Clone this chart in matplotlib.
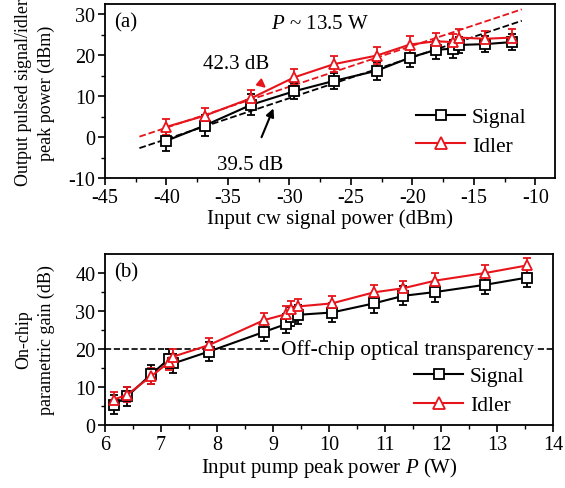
import matplotlib
matplotlib.use("Agg")
import matplotlib.pyplot as plt
from matplotlib.lines import Line2D
import numpy as np

plt.rcParams['font.family'] = ['Liberation Serif', 'DejaVu Serif']
plt.rcParams['mathtext.fontset'] = 'custom'
plt.rcParams['mathtext.it'] = 'Liberation Serif:italic'
plt.rcParams['mathtext.rm'] = 'Liberation Serif'
plt.rcParams['axes.unicode_minus'] = False

# Panel (a)
a_x = [-40.0, -36.9, -33.1, -29.6, -26.4, -22.9, -20.2, -18.1, -16.7, -16.2, -14.1, -11.9]
a_signal = [-0.9, 2.8, 7.9, 11.2, 13.7, 16.2, 19.4, 21.3, 21.6, 22.5, 22.7, 23.2]
a_idler = [2.5, 5.2, 9.5, 14.6, 17.8, 19.9, 22.6, 23.4, 23.2, 24.3, 24.0, 24.3]
a_sig_err = [2.5, 2.5, 2.5, 2.0, 2.0, 2.2, 2.2, 2.2, 2.2, 2.0, 2.0, 2.0]
a_idl_err = [2.0, 2.0, 2.0, 2.0, 2.0, 2.0, 2.0, 2.0, 2.0, 2.0, 2.0, 2.0]
fit_x = [-42.2, -11.1]
fit_gain_signal = 39.5
fit_gain_idler = 42.3

# Panel (b)
b_x = [6.16, 6.4, 6.83, 7.15, 7.22, 7.85, 8.84, 9.24, 9.33, 9.45, 10.05, 10.8, 11.33, 11.9, 12.79, 13.54]
b_signal = [5.3, 7.6, 13.4, 17.5, 16.2, 19.3, 24.5, 26.6, 28.5, 29.0, 29.6, 32.0, 34.0, 35.0, 36.9, 38.8]
b_idler = [6.7, 8.0, 12.9, 16.6, 18.0, 21.0, 27.6, 29.2, 30.6, 31.2, 32.0, 34.9, 36.0, 38.0, 40.0, 42.0]
b_sig_err = [2.5] * 16
b_idl_err = [2.0] * 16
transparency = 20

RED = '#e8141b'
fig = plt.figure(figsize=(5.65, 4.89), dpi=100)
ax1 = fig.add_axes([105/565, 1-179/489, 450/565, 174/489])
ax2 = fig.add_axes([105/565, 1-426/489, 448/565, 171/489])

fs = 15        # horizontal texts
fs_tick = 14.5
fs_v = 13      # vertical axis titles

ebkw = dict(capsize=3, elinewidth=1.3, capthick=1.3, markersize=7,
            markerfacecolor='white', markeredgewidth=1.3, linewidth=1.5)

def legend_handles():
    return [Line2D([], [], color='black', marker='s', markersize=7, markerfacecolor='white',
                   markeredgewidth=1.3, lw=1.5),
            Line2D([], [], color=RED, marker='^', markersize=8, markerfacecolor='white',
                   markeredgewidth=1.3, lw=1.5)]

# (a)
fx = np.array(fit_x)
ax1.plot(fx, fx + fit_gain_signal, '--', color='black', lw=1.3, zorder=1)
ax1.plot(fx, fx + fit_gain_idler, '--', color=RED, lw=1.3, zorder=1)
ax1.errorbar(a_x, a_signal, yerr=a_sig_err, fmt='-s', color='black', **ebkw)
ax1.errorbar(a_x, a_idler, yerr=a_idl_err, fmt='-^', color=RED, ecolor=RED, **ebkw)
ax1.set_xlim(-45, -8.4)
ax1.set_ylim(-10, 32.5)
ax1.set_xticks(np.arange(-45, -9, 5))
ax1.set_xticks(np.arange(-42.5, -8, 5), minor=True)
ax1.set_yticks(np.arange(-10, 31, 10))
ax1.set_yticks(np.arange(-5, 31, 10), minor=True)
ax1.set_xlabel('Input cw signal power (dBm)', fontsize=fs, labelpad=1)
fig.text(35/565, 1-93/489, 'Output pulsed signal/idler\npeak power (dBm)', fontsize=fs_v,
         rotation=90, ha='center', va='center', multialignment='center', linespacing=1.45)
ax1.text(0.02, 0.95, '(a)', transform=ax1.transAxes, fontsize=fs, va='top', ha='left')
ax1.text(-27.5, 27.8, r'$P$ ~ 13.5 W', fontsize=fs, ha='center', va='center')
ax1.annotate('42.3 dB', xy=(-31.9, 12.0), xytext=(-34.3, 18.0), fontsize=fs,
             ha='center', va='center', color='black',
             arrowprops=dict(arrowstyle='-|>', color=RED, lw=1.5, mutation_scale=12, shrinkA=8, shrinkB=0))
ax1.annotate('39.5 dB', xy=(-31.3, 7.0), xytext=(-33.2, -6.8), fontsize=fs,
             ha='center', va='center', color='black',
             arrowprops=dict(arrowstyle='-|>', color='black', lw=1.5, mutation_scale=12, shrinkA=12, shrinkB=0))
ax1.legend(legend_handles(), ['Signal', 'Idler'], loc='lower right', frameon=False, fontsize=fs + 0.5,
           handlelength=2.3, borderaxespad=0.3, handletextpad=0.3, labelspacing=0.4,
           bbox_to_anchor=(0.97, 0.04))

# (b)
ax2.axhline(transparency, color='black', ls='--', lw=1.2, zorder=1)
ax2.errorbar(b_x, b_signal, yerr=b_sig_err, fmt='-s', color='black', **ebkw)
ax2.errorbar(b_x, b_idler, yerr=b_idl_err, fmt='-^', color=RED, ecolor=RED, **ebkw)
ax2.text(11.4, transparency, 'Off-chip optical transparency', fontsize=fs + 0.5, ha='center', va='center',
         bbox=dict(facecolor='white', edgecolor='none', pad=0.5), zorder=2)
ax2.set_xlim(6, 14)
ax2.set_ylim(0, 45)
ax2.set_xticks(np.arange(6, 14.1, 1))
ax2.set_xticks(np.arange(6.5, 14, 1), minor=True)
ax2.set_yticks(np.arange(0, 41, 10))
ax2.set_yticks(np.arange(5, 45, 10), minor=True)
ax2.set_xlabel(r'Input pump peak power $P$ (W)', fontsize=fs, labelpad=1)
fig.text(35/565, 1-340/489, 'On-chip\nparametric gain (dB)', fontsize=fs_v,
         rotation=90, ha='center', va='center', multialignment='center', linespacing=1.45)
ax2.text(0.02, 0.95, '(b)', transform=ax2.transAxes, fontsize=fs, va='top', ha='left')
ax2.legend(legend_handles(), ['Signal', 'Idler'], loc='lower right', frameon=False, fontsize=fs + 0.5,
           handlelength=2.3, borderaxespad=0.3, handletextpad=0.3, labelspacing=0.4,
           bbox_to_anchor=(0.97, -0.03))

for ax in (ax1, ax2):
    ax.tick_params(which='major', direction='out', length=5, width=1.2, labelsize=fs_tick, pad=2)
    ax.tick_params(which='minor', direction='out', length=3, width=1.0)
    for s in ax.spines.values():
        s.set_linewidth(1.3)

fig.savefig('out.png', dpi=100)
